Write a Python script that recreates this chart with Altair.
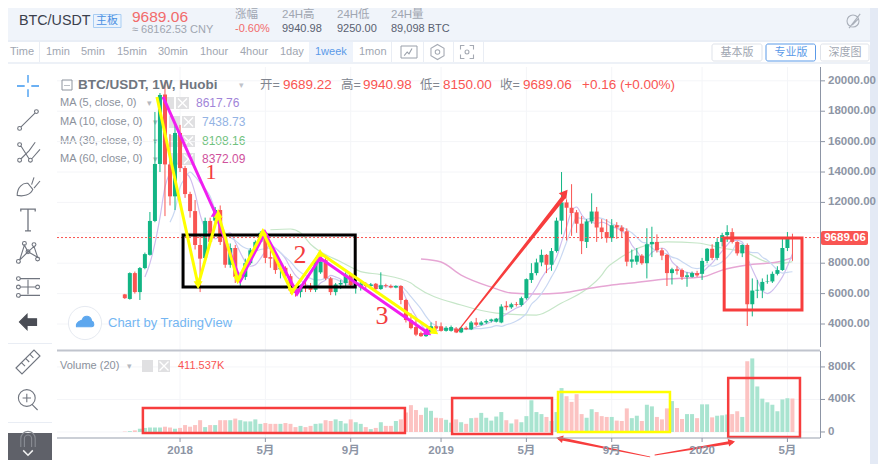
import altair as alt
import pandas as pd

# weekly candles
opens = [5950,5650,7350,6100,7680,8550,10780,14530,19100,14500,12400,16570,14260,12550,11430,9200,8340,10780,10800,11500,
         9700,7900,9000,6900,7100,8000,8850,9400,10000,8400,8400,7600,7700,7150,6300,6100,6450,6500,6250,7400,
         8200,7000,6100,6600,6700,7250,6550,6400,6650,6500,6650,6300,6550,6500,6400,6500,5580,4260,3800,3400,
         3200,3500,3850,3850,3550,3550,3700,3450,3750,3650,4100,3950,4100,4200,4150,4100,5200,5100,5300,5250,
         5700,6900,7350,8050,8550,7900,8800,10800,12000,11650,11350,10600,9400,10750,11400,10350,10050,9650,10500,10350,
         10100,8100,8100,8500,8000,9250,9400,8850,8550,7350,7600,7550,7100,7100,7350,7300,8150,8950,8350,9400,
         9850,10050,9400,8650,9200,5300,6200,6200,6770,6800,7300,7550,9000,9689.22]
closes = [5700,7350,6100,7680,8600,10780,14530,19070,14500,12400,16570,14260,12550,11430,9200,8300,10780,9400,11500,9400,
          7900,9000,7100,7100,8000,8850,9400,10000,8350,8300,7550,7700,7300,6200,6050,6450,6350,6250,8200,8100,
          7000,6100,6600,6700,7250,6550,6600,6650,6500,6600,6300,6550,6500,6400,6500,5580,4260,3730,3300,3200,
          3500,3850,3700,3550,3750,3800,3450,3750,3650,4100,3950,4100,4200,4300,4350,5150,5100,5300,5250,5700,
          6950,7350,8050,8550,7900,8800,10800,12000,11650,11300,10600,9450,10750,11400,10350,10050,9650,10500,10350,10100,
          8100,8250,8500,8000,9250,9400,8850,8500,7350,7600,7500,7100,7200,7350,7200,8150,8950,8350,9400,9850,
          10050,9400,8650,9200,5300,6200,6250,6770,6800,7300,7550,9000,9600,9689.06]
highs = [5980,7400,7450,7750,8700,11370,17950,19200,19900,16500,17100,17100,14400,12700,12160,9900,11000,11000,11700,11800,
         9900,9300,9200,7400,8300,9000,9500,10100,10050,9000,8500,8000,7800,7300,6450,6600,6800,6700,8400,8500,
         8500,7100,6700,6900,7400,7350,7000,6800,6750,6700,6700,7400,6650,6600,6550,6550,5650,4700,4400,3500,
         3600,4100,4200,4100,3850,3900,3800,3800,3850,4200,4400,4200,4300,4350,4400,5300,5500,5400,5450,5800,
         7000,8000,8300,8900,8600,9000,11000,14000,12200,13200,11500,11100,10900,12600,11700,10900,10900,10900,10700,10500,
         10300,8900,9000,8600,10300,10400,9900,9000,8600,7700,7800,7650,7400,7450,7500,8350,9000,9250,9650,10000,
         10500,10300,9450,9250,9300,7000,6900,7000,7250,7450,7800,9600,10050,9940.98]
lows = [5650,5600,6000,5580,7600,8500,10700,14000,11100,11800,11500,14000,12300,11000,8900,6100,8100,9200,10600,9200,
        7700,7700,6700,6450,6900,7900,8700,9300,8000,7700,7300,7000,7100,6000,5800,5750,6100,6100,6100,7300,
        6900,5900,5880,6300,6500,6400,6000,6200,6300,6400,6200,6250,6400,6350,6350,5300,4100,3650,3200,3150,
        3150,3400,3600,3500,3500,3500,3400,3400,3600,3600,3850,3900,4000,4100,4100,4050,4900,5000,5150,5150,
        5600,6700,7200,7800,7350,7500,8700,9900,9500,9800,10000,8600,9000,10600,9400,9600,9350,9400,9600,9700,
        7800,7700,7900,7900,7000,8400,8700,8200,6500,6600,7250,6900,6450,7050,7100,6900,8000,8200,8200,9100,
        9400,9300,8500,8400,3870,4500,5700,5700,6650,6700,7200,7500,8800,8150]
# volume in K
volumes = [5,10,20,40,50,55,55,55,65,55,40,50,85,65,85,145,60,85,85,145,
           145,145,165,145,130,130,155,100,110,100,100,100,110,100,60,75,60,75,100,105,
           145,135,155,135,105,155,120,100,60,35,50,120,75,75,135,155,240,330,270,210,
           300,260,175,170,150,115,155,120,100,170,175,235,175,140,190,245,145,105,155,120,
           195,390,245,220,185,135,245,540,440,370,465,220,175,280,245,195,185,185,140,135,
           290,170,200,135,335,315,185,155,290,380,295,160,220,220,170,340,340,180,200,205,
           215,220,255,185,870,905,560,410,365,335,255,400,415,411.537]
weeks = list(range(len(opens)))

ma5_weeks = list(range(4, 134))
ma5 = [7090,8000,9300,11000,13000,14000,14600,14500,14000,13600,12600,11200,10300,9900,9600,9800,9900,10000,9400,8700,
       8100,7800,7900,8300,8800,9200,9000,8700,8300,7700,7200,6900,6600,6500,6400,6700,6900,7200,7100,6950,
       6650,6600,6700,6700,6600,6550,6500,6450,6450,6450,6450,6350,5700,5050,4500,4000,3600,3500,3550,3600,
       3700,3700,3650,3650,3650,3700,3800,3900,4000,4150,4250,4450,4650,4850,5050,5200,5500,5900,6400,7000,
       7500,7800,8400,9400,10400,11400,11700,11200,10800,10700,10600,10700,10600,10400,10300,10150,9800,9200,8800,8400,
       8400,8700,8900,9000,8800,8100,7800,7500,7400,7350,7300,7400,7700,8000,8400,8800,9200,9500,9500,9400,
       8400,7600,6900,6200,6000,6200,6600,7100,7800,8617.76]
ma10_weeks = list(range(9, 134))
ma10 = [10700,11500,13000,13600,14000,13700,13300,12900,12400,11500,10800,10000,9700,9500,9200,9000,8900,8800,8900,8950,
        9000,8950,8700,8400,8100,7700,7400,7200,7000,6900,6900,7000,7000,6950,6800,6700,6800,6700,6650,6600,
        6550,6550,6550,6500,6500,6500,6500,6200,5800,5400,5000,4500,4100,3900,3750,3700,3650,3650,3650,3650,
        3650,3700,3700,3750,3800,3900,3850,3950,4050,4200,4400,4700,5300,5600,6000,6500,7100,7700,8500,9400,
        10300,11000,10950,10900,10950,11000,10950,10800,10600,10500,10400,10200,10000,9700,9400,9300,9000,8800,8700,8600,
        8400,8300,8100,7900,7700,7650,7700,7900,7800,7900,8100,8400,8800,9300,9300,8800,8700,8700,8400,8200,
        7900,7550,7350,7400,7438.73]
ma30_weeks = [29,33,35,37,39,43,47,51,57,58,67,74,82,87,92,95,96,98,104,108,114,119,124,128,131,133]
ma30 = [10200,10250,10000,9250,8750,8100,7450,7250,6700,6450,5250,4720,4590,5380,6300,7220,7680,8200,9200,9400,9330,9000,8670,8080,8000,8108.16]
ma60_weeks = [59,63,67,73,77,82,87,93,97,101,108,115,119,124,130,133]
ma60 = [8280,8080,7220,6430,6040,5970,6040,6370,6570,6700,6960,7090,7550,7880,8080,8372.09]

price_ticks = [4000,6000,8000,10000,12000,14000,16000,18000,20000]
price_axis_ticks = [4000,6000,8000,12000,14000,16000,18000,20000]
price_axis_labels = ["4000.00","6000.00","8000.00","12000.00","14000.00","16000.00","18000.00","20000.00"]
vol_ticks = [0,400,800]
vol_labels = ["0","400K","800K"]
tick_weeks = [11,28,45,63,80,97,115,132]
tick_labels = ["2018","5月","9月","2019","5月","9月","2020","5月"]

# hand drawn marks on the screenshot
yellow_w = [6.4,14.6,18.6,22.5,27.5,33.3,38.9,61.8]
yellow_p = [18937,6566,11238,6895,10054,6106,8672,3474]
yellow_a = [0,180,0,180,0,180,0,125]
magenta_w = [7.6,18,23,27.9,34.3,38.9,60.4]
magenta_p = [18937,11304,6895,9988,6040,8343,3408]
magenta_a = [0,0,180,0,180,0,125]

SANS = "Liberation Sans, Noto Sans CJK SC"
GREEN = "#12b584"
RED = "#f95552"
LGREEN = "#a9e4d0"
LRED = "#fcc3c2"
GRAY = "#8d95a5"
GRID = "#f4f5f8"

alt.data_transformers.disable_max_rows()
candles = pd.DataFrame({"week": weeks, "open": opens, "close": closes, "high": highs, "low": lows, "volume": volumes})
candles["up"] = candles.close >= candles.open

# padding=0: bars would otherwise pull the x scale in by a few pixels
x_scale = alt.Scale(domain=[-13.51, 138.49], nice=False, zero=False, padding=0)
price_scale = alt.Scale(domain=[2487, 20910], range=[280, 0], nice=False, zero=False)
vol_scale = alt.Scale(domain=[-74, 996], range=[371, 284], nice=False, zero=False)

X = alt.X("week:Q", scale=x_scale, axis=None)
P = alt.Y("price:Q", scale=price_scale, axis=None)
V = alt.Y("vol:Q", scale=vol_scale, axis=None)


# chrome is placed in screenshot pixels
def px(v):
    return alt.value(v - 57)


def py(v):
    return alt.value(v - 67)


def label(text, x, y, color=GRAY, size=11, weight="normal", align="left", font=SANS):
    return alt.Chart(pd.DataFrame({"t": [text]})).mark_text(align=align, baseline="middle", color=color, fontSize=size,
                                                            fontWeight=weight, font=font).encode(x=px(x), y=py(y), text="t:N")


def box(x1, x2, y1, y2, fill=None, stroke=None, sw=1, radius=0):
    kw = {"cornerRadius": radius} if radius else {}
    if fill:
        kw["fill"] = fill
    else:
        kw["fillOpacity"] = 0
    if stroke:
        kw["stroke"] = stroke
        kw["strokeWidth"] = sw
    return alt.Chart(pd.DataFrame({"a": [0]})).mark_rect(**kw).encode(x=px(x1), x2=px(x2), y=py(y1), y2=py(y2))


def icon(path, x, y, box_size=24, color="#70757f", sw=1.1, fill=False):
    return alt.Chart(pd.DataFrame({"a": [0]})).mark_point(shape=path, size=box_size ** 2, filled=fill, stroke=color, fill=color if fill else None,
                                                          strokeWidth=sw, opacity=1).encode(x=px(x), y=py(y))


def ring(cx, cy, r=0.16):
    return f"M{cx - r} {cy}a{r} {r} 0 1 0 {2 * r} 0a{r} {r} 0 1 0 {-2 * r} 0"


bg = [
    box(57, 820, 67, 438, fill="#ffffff"),
    box(4, 870, 2, 40, fill="#f0f4fa"),
    box(4, 870, 40, 42, fill="#e9eef6"),
    box(4, 870, 62, 64, fill="#edf1f7"),
    box(870, 878, 0, 464, fill="#e4eaf5"),
    box(309, 353, 42, 62, fill="#eef3fb"),
]

# grids
grid_x = alt.Chart(pd.DataFrame({"week": tick_weeks})).mark_rule(color=GRID).encode(x=X, y=py(67), y2=py(438))
grid_p = alt.Chart(pd.DataFrame({"price": price_ticks})).mark_rule(color=GRID).encode(y=P, x=px(57), x2=px(820))
grid_v = alt.Chart(pd.DataFrame({"vol": vol_ticks})).mark_rule(color=GRID).encode(y=V, x=px(57), x2=px(820))

# legend text sits under the candles
legend_rows = [("MA (5, close, 0)", 103, "8617.76", "#a184d8", 196, 147, 163),
               ("MA (10, close, 0)", 122, "7438.73", "#93b3e4", 202, 153, 169),
               ("MA (30, close, 0)", 141, "8108.16", "#70c27e", 202, 153, 169),
               ("MA (60, close, 0)", 159, "8372.09", "#cf519c", 202, 153, 169)]
legend = []
for name, ly, val, col, vx, dx, gx in legend_rows:
    legend.append(label(name, 60, ly, color="#8b919c", size=11))
    legend.append(label("▾", dx, ly, color="#b4b8c0", size=9))
    legend.append(box(gx, gx + 11, ly - 6, ly + 6, fill="#e0e0e2"))
    legend.append(box(gx + 13, gx + 26, ly - 6, ly + 6, fill="#e0e0e2"))
    legend.append(icon("M-1 -1L1 1M-1 1L1 -1", gx + 19.5, ly, box_size=9, color="#ffffff", sw=1.4))
    legend.append(label(val, vx, ly, color=col, size=12))

# price panel
base = alt.Chart(candles)
up_color = alt.condition("datum.up", alt.value(GREEN), alt.value(RED))
wicks = base.mark_rule(strokeWidth=1).encode(x=X, y=alt.Y("high:Q", scale=price_scale, axis=None), y2="low:Q", color=up_color)
bodies = base.mark_bar(size=4).encode(x=X, y=alt.Y("open:Q", scale=price_scale, axis=None), y2="close:Q", color=up_color)


def ma_line(w, v, color, opacity=1, sw=1.2):
    df = pd.DataFrame({"week": w, "price": v})
    return alt.Chart(df).mark_line(color=color, strokeWidth=sw, opacity=opacity, interpolate="monotone").encode(x=X, y=P)


mas = [ma_line(ma30_weeks, ma30, "#c6e6c8"), ma_line(ma60_weeks, ma60, "#e6a6d4", sw=1.4),
       ma_line(ma5_weeks, ma5, "#cfbeee"), ma_line(ma10_weeks, ma10, "#c9d8f2")]

cur_df = pd.DataFrame({"price": [9689.06]})
cur_line = alt.Chart(cur_df).mark_rule(color=RED, strokeDash=[2, 2], strokeWidth=1).encode(y=P, x=px(57), x2=px(820))

# right hand scales
price_tick_df = pd.DataFrame({"price": price_axis_ticks, "t": price_axis_labels})
price_tick_marks = alt.Chart(price_tick_df).mark_rule(color=GRAY).encode(y=P, x=px(820), x2=px(825))
price_tick_text = alt.Chart(price_tick_df).mark_text(align="left", baseline="middle", font=SANS, fontSize=11.5, fontWeight="bold", color=GRAY).encode(
    y=P, x=px(828), text="t:N")


def drawn(w, p, a, color, sw=3, head=80):
    df = pd.DataFrame({"week": w, "price": p, "a": a})
    line = alt.Chart(df.assign(idx=range(len(w)))).mark_line(color=color, strokeWidth=sw).encode(x=X, y=P, order="idx:Q")
    tips = alt.Chart(df.iloc[1:]).mark_point(shape="triangle-up", filled=True, color=color, size=head, opacity=1).encode(
        x=X, y=P, angle=alt.Angle("a:Q", scale=None))
    return [line, tips]


# black box, red box and big arrow on the price panel
black_box = alt.Chart(pd.DataFrame({"week": [11.6], "w2": [45.9], "price": [9856], "p2": [6435]})).mark_rect(
    fillOpacity=0, stroke="#000000", strokeWidth=3).encode(x=X, x2="w2:Q", y=P, y2="p2:Q")
red_box = alt.Chart(pd.DataFrame({"week": [119.4], "w2": [134.9], "price": [9659], "p2": [4921]})).mark_rect(
    fillOpacity=0, stroke="#f73d3d", strokeWidth=3).encode(x=X, x2="w2:Q", y=P, y2="p2:Q")
big_arrow = alt.Chart(pd.DataFrame({"week": [66.2, 87.3], "price": [3474, 12300], "w": [1.2, 4.2]})).mark_trail(color="#f73d3d").encode(
    x=X, y=P, size=alt.Size("w:Q", scale=None, legend=None))
big_head = alt.Chart(pd.DataFrame({"week": [87.7], "price": [12620], "a": [38]})).mark_point(
    shape="triangle-up", filled=True, color="#f73d3d", size=90, opacity=1).encode(x=X, y=P, angle=alt.Angle("a:Q", scale=None))

price_layer = alt.layer(grid_p, *mas, wicks, bodies, cur_line, price_tick_marks, price_tick_text,
                        black_box, *drawn(magenta_w, magenta_p, magenta_a, "#f01ff0"),
                        *drawn(yellow_w, yellow_p, yellow_a, "#ffff00"),
                        red_box, big_arrow, big_head)

# volume panel
vol_bars = base.mark_bar(size=4).encode(x=X, y=alt.Y("volume:Q", scale=vol_scale, axis=None), y2=alt.datum(0),
                                        color=alt.condition("datum.up", alt.value(LGREEN), alt.value(LRED)))
vol_tick_df = pd.DataFrame({"vol": vol_ticks, "t": vol_labels})
vol_tick_marks = alt.Chart(vol_tick_df).mark_rule(color=GRAY).encode(y=V, x=px(820), x2=px(825))
vol_tick_text = alt.Chart(vol_tick_df).mark_text(align="left", baseline="middle", font=SANS, fontSize=11.5, fontWeight="bold", color=GRAY).encode(
    y=V, x=px(828), text="t:N")


def vol_box(w1, w2, v1, v2, color):
    df = pd.DataFrame({"week": [w1], "w2": [w2], "vol": [v1], "v2": [v2]})
    return alt.Chart(df).mark_rect(fillOpacity=0, stroke=color, strokeWidth=2.5).encode(x=X, x2="w2:Q", y=V, y2="v2:Q")


def thin_arrow(w, v, widths, a):
    df = pd.DataFrame({"week": w, "vol": v, "w": widths})
    trail = alt.Chart(df).mark_trail(color="#f73d3d").encode(x=X, y=V, size=alt.Size("w:Q", scale=None, legend=None))
    head = alt.Chart(df.iloc[[-1]].assign(a=a)).mark_point(shape="triangle-up", filled=True, color="#f73d3d", size=60, opacity=1).encode(
        x=X, y=V, angle=alt.Angle("a:Q", scale=None))
    return [trail, head]


vol_layer = alt.layer(grid_v, vol_bars, vol_tick_marks, vol_tick_text,
                      vol_box(3.6, 55.8, 295, -12, "#f73d3d"),
                      vol_box(65.2, 85.1, 418, -25, "#f73d3d"),
                      vol_box(86.3, 108.6, 492, 0, "#ffff00"),
                      vol_box(120.2, 134.5, 664, -62, "#f73d3d"),
                      *thin_arrow([104.6, 86.6], [-307, -80], [0.8, 3], 282),
                      *thin_arrow([105.6, 120.9], [-283, -125], [0.8, 3], 80))

# bottom time scale
time_df = pd.DataFrame({"week": tick_weeks, "t": tick_labels})
time_ticks = alt.Chart(time_df).mark_rule(color=GRAY).encode(x=X, y=py(438), y2=py(442))
time_text = alt.Chart(time_df).mark_text(align="center", baseline="middle", font=SANS, fontSize=11.5, fontWeight="bold", color=GRAY).encode(
    x=X, y=py(451), text="t:N")

# header and toolbars
top = [
    box(57, 820, 437.5, 438.5, fill="#98a0ae"),
    box(820, 821, 67, 347, fill="#8d95a5"),
    box(820, 821, 351, 438, fill="#8d95a5"),
    time_ticks, time_text,
    label("BTC/USDT", 19, 21, color="#3a404c", size=14.3),
    box(93.5, 121, 14.5, 27.5, fill="#eaf3fd", stroke="#a8cdf3"),
    label("主板", 107, 21, color="#4a90e2", size=11, align="center"),
    label("9689.06", 132, 17, color="#f26b6b", size=15.5),
    label("≈ 68162.53 CNY", 132, 29.5, color="#a0a6b1", size=11),
    label("涨幅", 235, 15, color="#a0a6b1", size=11.5),
    label("-0.60%", 235, 29, color="#f26b6b", size=11),
    label("24H高", 282, 15, color="#a0a6b1", size=11.5),
    label("9940.98", 282, 29, color="#596070", size=11),
    label("24H低", 337, 15, color="#a0a6b1", size=11.5),
    label("9250.00", 337, 29, color="#596070", size=11),
    label("24H量", 391, 15, color="#a0a6b1", size=11.5),
    label("89,098 BTC", 391, 29, color="#596070", size=11),
    icon("M.75 0A.75 .75 0 1 1 -.75 0A.75 .75 0 1 1 .75 0M-.5 .9L.9 -.9M-.1 .5L.7 -.3", 853, 21, box_size=16, color="#aab0ba"),
]
for name, tx in [("Time", 10), ("1min", 46), ("5min", 81), ("15min", 117), ("30min", 158), ("1hour", 200),
                 ("4hour", 240), ("1day", 280), ("1mon", 359)]:
    top.append(label(name, tx, 52, color="#a0a6b1", size=11))
top.append(label("1week", 315, 52, color="#5b9ae8", size=11))
for sx in [39, 391, 423, 453, 483]:
    top.append(box(sx, sx + 1, 41, 62, fill="#e9edf4"))
top += [
    box(401, 417, 46, 58, stroke="#9aa0aa"),
    icon("M-.8 .6L-.3 0L0 .3L.5 -.6", 409, 52, box_size=12, color="#9aa0aa"),
    icon("M0 -1L.87 -.5V.5L0 1L-.87 .5V-.5ZM.3 0A.3 .3 0 1 1 -.3 0A.3 .3 0 1 1 .3 0", 437.5, 52, box_size=15, color="#a5aab3"),
    icon("M-1 -.4V-1H-.4M.4 -1H1V-.4M1 .4V1H.4M-.4 1H-1V.4M.3 0A.3 .3 0 1 1 -.3 0A.3 .3 0 1 1 .3 0", 467, 52, box_size=13, color="#a5aab3"),
    box(712, 762, 44, 61, fill="#ffffff", stroke="#dfe3ea", radius=2),
    box(766, 815.5, 44, 61, fill="#ffffff", stroke="#5b9ae8", radius=2),
    box(820.5, 869, 44, 61, fill="#ffffff", stroke="#dfe3ea", radius=2),
    label("基本版", 737, 52.5, color="#a0a6b1", size=11, align="center"),
    label("专业版", 791, 52.5, color="#5b9ae8", size=11, align="center"),
    label("深度图", 845, 52.5, color="#a0a6b1", size=11, align="center"),
    # chart legend
    box(62, 72, 80, 90, stroke="#8e949e"),
    box(64, 70, 85, 85.6, fill="#8e949e"),
    label("BTC/USDT, 1W, Huobi", 78, 85, color="#70767f", size=13.5, weight="bold"),
    label("▾", 239, 85, color="#bfc3ca", size=9),
    label("开=", 260, 85, color="#80858f", size=12.5),
    label("9689.22", 283, 85, color=RED, size=13.5),
    label("高=", 341, 85, color="#80858f", size=12.5),
    label("9940.98", 363, 85, color=RED, size=13.5),
    label("低=", 420, 85, color="#80858f", size=12.5),
    label("8150.00", 443, 85, color=RED, size=13.5),
    label("收=", 500, 85, color="#80858f", size=12.5),
    label("9689.06", 523, 85, color=RED, size=13.5),
    label("+0.16 (+0.00%)", 582, 85, color=RED, size=13.5),
    # volume legend
    label("Volume (20)", 60, 366, color="#8b919c", size=11),
    label("▾", 127, 366, color="#b4b8c0", size=9),
    box(142, 153, 360, 372, fill="#e0e0e2"),
    box(158, 170, 360, 372, fill="#e0e0e2"),
    icon("M-1 -1L1 1M-1 1L1 -1", 164, 366, box_size=9, color="#ffffff", sw=1.4),
    label("411.537K", 178, 366, color=RED, size=11),
    # numbers written on the chart
    label("1", 211, 172, color="#f33d3d", size=22, font="Liberation Serif", align="center"),
    label("2", 300, 255, color="#f33d3d", size=26, font="Liberation Serif", align="center"),
    label("3", 382, 316, color="#f33d3d", size=26, font="Liberation Serif", align="center"),
    # price tag
    box(821, 868, 231, 245, fill=RED, radius=2),
    label("9689.06", 845, 238, color="#ffffff", size=11.5, weight="bold", align="center"),
    # panel divider and tradingview logo
    box(57, 820, 349.5, 351.5, fill="#c0c4cd"),
    alt.Chart(pd.DataFrame({"a": [0]})).mark_point(size=1100, filled=True, color="#ffffff", stroke="#e6eaf1", strokeWidth=1, opacity=1).encode(x=px(85), y=py(323)),
    icon("M-.9 .5C-1 0 -.5 -.1 -.3 -.2C-.1 -.8 .6 -.7 .7 -.1C1 0 1 .5 .7 .5Z", 85, 322, box_size=19, color="#5da7ee", fill=True),
    label("Chart by TradingView", 108, 323, color="#74b6f2", size=13),
]

# left toolbar
top += [
    box(4, 52, 343, 344, fill="#e9edf4"),
    box(4, 52, 422, 423, fill="#e9edf4"),
    box(4, 52, 433, 460, fill="#5f6169"),
    icon("M-1 0H-.3M.3 0H1M0 -1V-.3M0 .3V1", 28, 86, box_size=22, color="#3b97f0", sw=1.3),
    icon(ring(-.7, .7) + ring(.7, -.7) + "M-.58 .58L.58 -.58", 28, 120, box_size=24),
    icon(ring(-.7, -.7) + ring(-.7, .6) + ring(.2, .6) + "M-.6 -.6L.1 .5M-.6 .5L.1 -.2L.6 -.9M.3 .5L1 -.3", 28, 153, box_size=24),
    icon("M-.9 .7C-.9 0 -.4 -.4 0 -.3L.4 .2C.2 .7 -.4 .8 -.9 .7ZM.3 -.2L.5 -.8M.5 .1L1 -.5", 28, 187, box_size=24),
    icon("M-.6 -.7V-.9H.6V-.7M0 -.9V.9M-.25 .9H.25", 28, 220, box_size=24, sw=1.3),
    icon(ring(-.8, .7) + ring(-.3, -.8) + ring(.5, -.7) + ring(.8, .5) + ring(0, -.1) + "M-.7 .6L-.3 -.65L0 -.1L.5 -.55L.8 .35L0 -.1L-.7 .6", 28, 253, box_size=24),
    icon(ring(-.8, -.7) + ring(-.8, 0) + ring(-.8, .7) + ring(.8, 0) + "M-.65 -.7H1M-.65 0H.65M-.65 .7H1M0 -.6V.6", 28, 287, box_size=24),
    icon("M-.9 0L-.1 -.8V-.35H.9V.35H-.1V.8Z", 28, 322, box_size=19, color="#4a4d55", fill=True),
    icon("M-1 .5L.5 -1L1 -.5L-.5 1ZM-.55 .05L-.25 .35M-.2 -.3L.1 0M.15 -.65L.45 -.35", 28, 362, box_size=24),
    icon("M.6 0A.7 .7 0 1 1 -.8 0A.7 .7 0 1 1 .6 0M.35 .55L.8 1M-.45 0H.25M-.1 -.35V.35", 28, 398, box_size=24),
    icon("M-.6 .5V-.2A.6 .6 0 0 1 .6 -.2V.5M-.3 .5V-.2A.3 .3 0 0 1 .3 -.2V.5", 28, 441, box_size=24, color="#8a8d94"),
    icon("M-.6 -.2L0 .4L.6 -.2", 28, 452, box_size=16, color="#f2f2f2", sw=1.5),
]

chart = alt.layer(*bg, grid_x, *legend, price_layer, vol_layer, *top).resolve_scale(y="independent").properties(
    width=763, height=371, padding={"left": 49, "top": 59, "right": 58, "bottom": 26},
    autosize=alt.AutoSizeParams(type="none"), background="#ffffff"
).configure_view(stroke=None)

chart.save("out.html", embed_options={"renderer": "svg", "actions": False})
